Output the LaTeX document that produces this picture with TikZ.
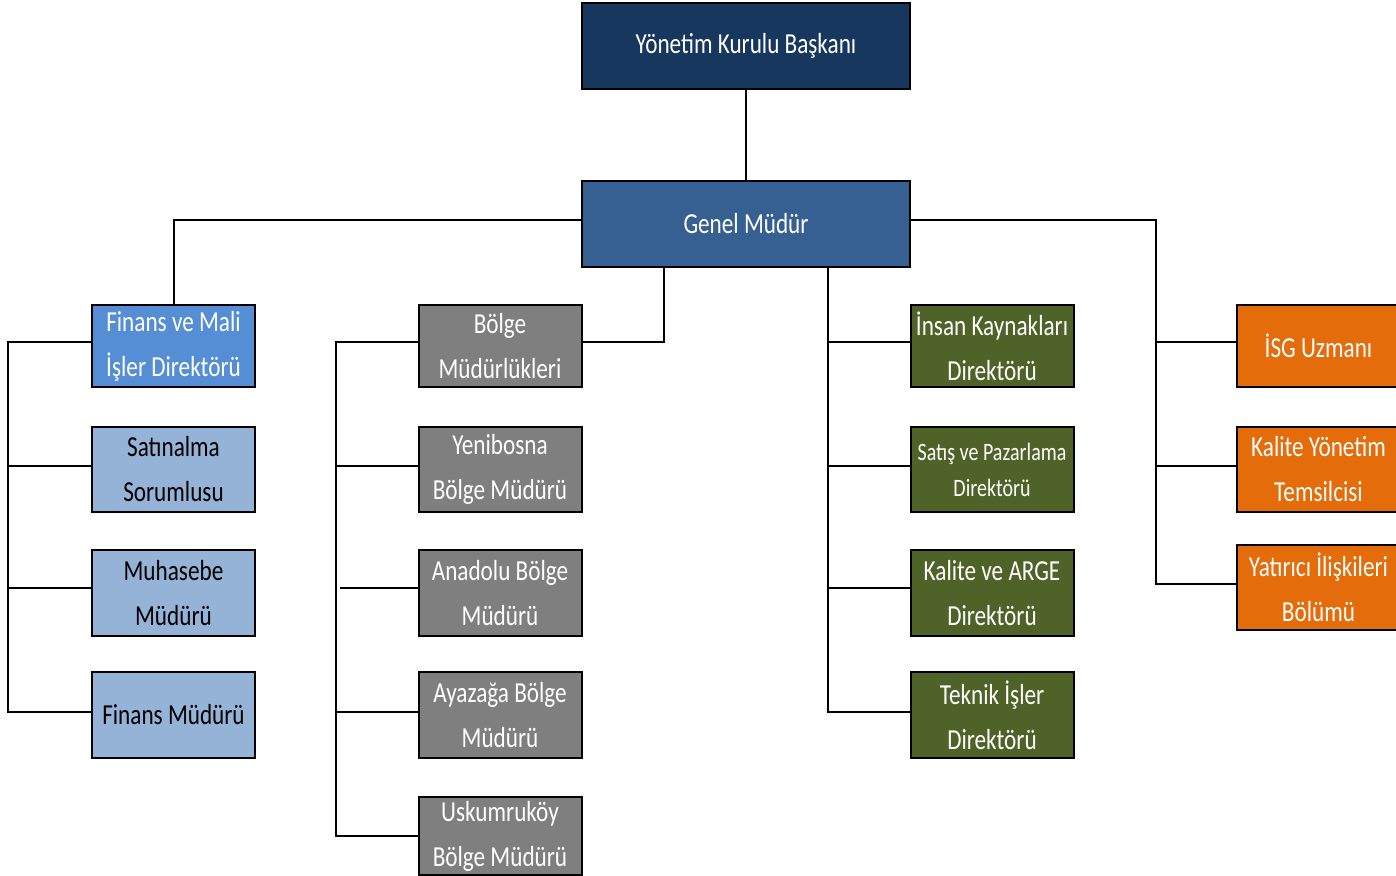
\documentclass[tikz,border=0pt]{standalone}
\usepackage{fontspec}
\setmainfont{Carlito}[FakeStretch=0.80]
\usetikzlibrary{calc}
\definecolor{cTop}{HTML}{17375E}
\definecolor{cGm}{HTML}{376092}
\definecolor{cFin}{HTML}{558ED5}
\definecolor{cLb}{HTML}{95B3D7}
\definecolor{cGr}{HTML}{7F7F7F}
\definecolor{cGn}{HTML}{4F6228}
\definecolor{cOr}{HTML}{E46C0A}
\tikzset{
  box/.style={draw=black, line width=2pt, inner sep=0pt, align=center,
    minimum width=163pt, minimum height=82pt, text=white,
    font=\fontsize{29}{45}\selectfont},
  bigbox/.style={box, minimum width=328pt, minimum height=86pt},
  conn/.style={line width=2pt, draw=black},
}
\begin{document}
\begin{tikzpicture}[x=1pt,y=-1pt]
\useasboundingbox (0,0) rectangle (1396,875);
% top
\node[bigbox, fill=cTop] (yk) at (746,46) {Yönetim Kurulu Başkanı};
\node[bigbox, fill=cGm] (gm) at (746,223.5) {Genel Müdür};
% finance column
\node[box, fill=cFin] (fin) at (173.5,346) {Finans ve Mali\\İşler Direktörü};
\node[box, fill=cLb, text=black, minimum height=85pt] (sat) at (173.5,469.5) {Satınalma\\Sorumlusu};
\node[box, fill=cLb, text=black, minimum height=86pt] (muh) at (173.5,593) {Muhasebe\\Müdürü};
\node[box, fill=cLb, text=black, minimum height=86pt] (fm) at (173.5,715) {Finans Müdürü};
% region column
\node[box, fill=cGr] (bm) at (500,346) {Bölge\\Müdürlükleri};
\node[box, fill=cGr, minimum height=85pt] (yb) at (500,469.5) {Yenibosna\\Bölge Müdürü};
\node[box, fill=cGr, minimum height=86pt] (an) at (500,593) {Anadolu Bölge\\Müdürü};
\node[box, fill=cGr, minimum height=86pt] (ay) at (500,715) {Ayazağa Bölge\\Müdürü};
\node[box, fill=cGr, minimum height=78pt] (us) at (500,836) {Uskumruköy\\Bölge Müdürü};
% green column
\node[box, fill=cGn] (ik) at (992,346) {İnsan Kaynakları\\Direktörü};
\node[box, fill=cGn, minimum height=85pt, font=\fontsize{25}{36}\selectfont] (sp) at (992,469.5) {Satış ve Pazarlama\\Direktörü};
\node[box, fill=cGn, minimum height=86pt] (ka) at (992,593) {Kalite ve ARGE\\Direktörü};
\node[box, fill=cGn, minimum height=86pt] (tk) at (992,715) {Teknik İşler\\Direktörü};
% orange column
\node[box, fill=cOr] (isg) at (1318.5,346) {İSG Uzmanı};
\node[box, fill=cOr, minimum height=85pt] (kyt) at (1318.5,469.5) {Kalite Yönetim\\Temsilcisi};
\node[box, fill=cOr, minimum height=85pt] (yat) at (1318.5,587.5) {Yatırıcı İlişkileri\\Bölümü};
% connectors
\draw[conn] (yk.south) -- (gm.north);
\draw[conn] ([yshift=4pt]gm.west) -| (fin.north);
\coordinate (lb) at ($(fin.west)+(-83,-4)$);
\draw[conn] ([yshift=4pt]fin.west) -- (lb) |- ([yshift=3pt]fm.west);
\draw[conn] ([yshift=4pt]sat.west) -- ([yshift=4pt]sat.west -| lb);
\draw[conn] ([yshift=5pt]muh.west) -- ([yshift=5pt]muh.west -| lb);
\draw[conn] ([yshift=4pt]bm.east) -| ([xshift=-82pt]gm.south);
\coordinate (gb) at ($(bm.west)+(-82,-4)$);
\draw[conn] ([yshift=4pt]bm.west) -- (gb) |- (us.west);
\draw[conn] ([yshift=4pt]yb.west) -- ([yshift=4pt]yb.west -| gb);
\draw[conn] ([yshift=5pt]an.west) -- ($([yshift=5pt]an.west -| gb)+(4,0)$);
\draw[conn] ([yshift=3pt]ay.west) -- ([yshift=3pt]ay.west -| gb);
\draw[conn] ([xshift=82pt]gm.south) |- ([yshift=3pt]tk.west);
\draw[conn] ([yshift=4pt]ik.west) -- ++(-82,0);
\draw[conn] ([yshift=4pt]sp.west) -- ++(-82,0);
\draw[conn] ([yshift=5pt]ka.west) -- ++(-82,0);
\coordinate (ob) at ($(yat.west)+(-80,-4)$);
\draw[conn] ([yshift=4pt]gm.east) -| (ob) -- ([yshift=4pt]yat.west);
\draw[conn] ([yshift=4pt]isg.west) -- ([yshift=4pt]isg.west -| ob);
\draw[conn] ([yshift=4pt]kyt.west) -- ([yshift=4pt]kyt.west -| ob);
\end{tikzpicture}
\end{document}
